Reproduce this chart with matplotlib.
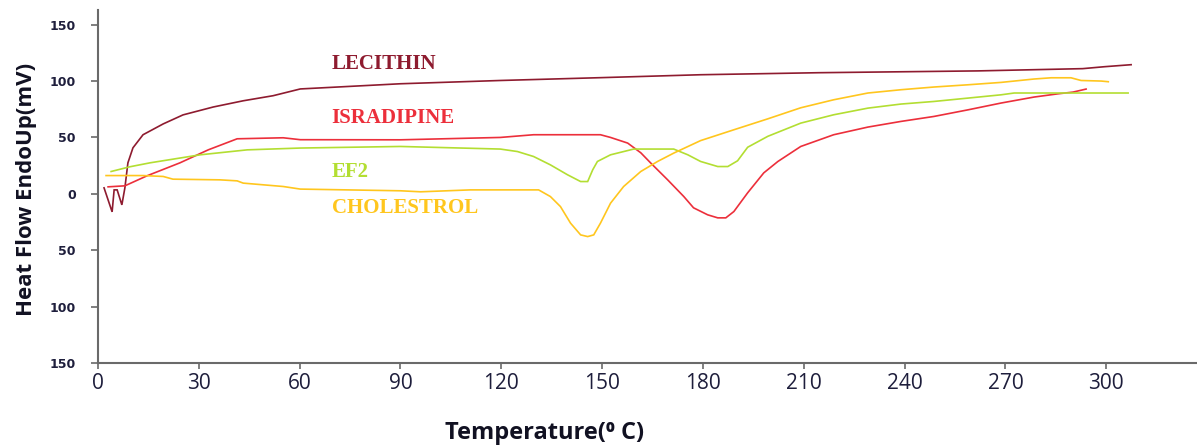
import matplotlib
matplotlib.use("Agg")
import matplotlib.pyplot as plt
from matplotlib.ticker import FuncFormatter

# ---------------- data ----------------
lecithin_x = [1.8, 4.2, 4.8, 5.7, 7.1, 8.0, 8.9, 10.4, 13.4, 19.4, 25.3, 34.3, 43.2,
              52.1, 60.2, 90.0, 119.7, 149.5, 179.3, 214.5, 261.8, 293.0, 299.4, 307.4]
lecithin_y = [5.3, -16.0, 3.5, 3.5, -9.8, 5.3, 27.5, 40.8, 52.4, 62.0, 70.0, 77.0, 82.5,
              87.0, 93.0, 97.6, 100.5, 103.0, 105.6, 107.4, 109.0, 111.0, 112.7, 114.5]

isradipine_x = [3.0, 8.0, 14.6, 24.4, 32.8, 41.4, 55.1, 60.2, 90.0, 119.7, 129.6, 149.5,
                152.5, 157.6, 161.5, 164.4, 169.5, 174.3, 177.2, 181.4, 184.4, 186.8,
                189.2, 193.3, 198.1, 202.3, 209.1, 218.9, 229.1, 238.9, 248.7, 258.9,
                268.7, 278.5, 285.7, 290.1, 294.0]
isradipine_y = [6.2, 7.1, 16.0, 27.5, 39.0, 48.8, 49.7, 48.0, 47.9, 50.0, 52.4, 52.4,
                50.0, 45.0, 36.4, 27.5, 12.4, -2.4, -12.4, -18.6, -21.3, -21.3,
                -15.7, 0.9, 18.6, 28.7, 42.0, 52.4, 59.2, 64.2, 68.6, 74.5,
                80.5, 85.8, 88.7, 90.2, 92.9]

ef2_x = [3.9, 9.5, 15.5, 30.4, 44.4, 60.2, 90.0, 119.7, 124.8, 129.6, 134.6, 139.7,
         143.6, 145.7, 147.2, 148.6, 152.5, 159.4, 171.3, 175.5, 179.3, 184.4, 187.4,
         190.3, 193.3, 199.3, 209.1, 218.9, 229.1, 238.9, 248.7, 258.9, 268.7, 272.6, 306.5]
ef2_y = [19.8, 24.0, 27.5, 34.6, 39.0, 40.6, 42.0, 39.7, 37.5, 33.1, 25.7, 16.9,
         10.9, 10.9, 21.3, 28.7, 34.6, 39.7, 39.7, 34.6, 28.7, 24.2, 24.2,
         29.3, 41.3, 51.0, 62.7, 70.1, 76.0, 79.6, 81.9, 84.9, 87.8, 89.4, 89.4]

chol_x = [2.4, 13.4, 19.4, 22.3, 36.3, 41.4, 43.2, 55.1, 60.2, 90.0, 96.0, 110.8, 119.7,
          131.1, 134.6, 137.6, 140.6, 143.6, 145.7, 147.5, 149.5, 152.5, 156.4, 161.5,
          166.5, 171.3, 179.3, 189.2, 199.3, 209.1, 218.9, 229.1, 238.9, 248.7, 258.9,
          268.7, 278.5, 283.6, 289.5, 292.5, 298.5, 300.6]
chol_y = [16.2, 16.2, 15.4, 13.0, 12.4, 11.5, 9.5, 6.5, 4.2, 2.7, 1.8, 3.5, 3.5,
          3.5, -2.4, -11.3, -26.0, -36.4, -37.9, -36.4, -26.0, -8.3, 6.5, 19.8,
          28.7, 36.1, 47.2, 56.8, 66.5, 76.3, 83.4, 89.4, 92.3, 94.7, 96.7,
          98.8, 101.8, 102.9, 102.9, 100.5, 100.0, 99.4]

series_names = ["LECITHIN", "ISRADIPINE", "EF2", "CHOLESTROL"]
label_y = [115.4, 67.4, 19.5, -13.0]
label_x = 69.5

x_ticks = [0, 30, 60, 90, 120, 150, 180, 210, 240, 270, 300]
y_ticks = [-150, -100, -50, 0, 50, 100, 150]

# ---------------- style ----------------
colors = ["#8E1B2F", "#EC2F3B", "#B3DE32", "#FFC61E"]
tick_color = "#1E1E3C"

fig = plt.figure(figsize=(11.97, 4.48), dpi=100)
ax = fig.add_axes([98 / 1197, (448 - 363) / 448, 1 - 98 / 1197, (363 - 10) / 448])

series = [(lecithin_x, lecithin_y), (isradipine_x, isradipine_y),
          (ef2_x, ef2_y), (chol_x, chol_y)]
for (xs, ys), c in zip(series, colors):
    ax.plot(xs, ys, color=c, lw=1.2, solid_joinstyle="miter")

for name, ly, c in zip(series_names, label_y, colors):
    ax.text(label_x, ly, name, color=c, fontsize=15, fontweight="bold",
            family="Liberation Serif", ha="left", va="center")

ax.set_xlim(0, 327)
ax.set_ylim(-150, 163)
ax.set_xticks(x_ticks)
ax.set_yticks(y_ticks)
ax.yaxis.set_major_formatter(FuncFormatter(lambda v, p: f"{abs(int(v))}"))

for s in ["top", "right"]:
    ax.spines[s].set_visible(False)
for s in ["left", "bottom"]:
    ax.spines[s].set_color("#6A6A6A")
    ax.spines[s].set_linewidth(1.5)

ax.tick_params(axis="x", length=4, width=1.2, color="#6A6A6A", pad=3,
               labelsize=15, labelcolor=tick_color)
ax.tick_params(axis="y", length=5, width=1.2, color="#6A6A6A", pad=11,
               labelsize=9, labelcolor=tick_color)
for lab in ax.get_xticklabels():
    lab.set_family("Open Sans")
for lab in ax.get_yticklabels():
    lab.set_family("DejaVu Sans")
    lab.set_fontweight("bold")

fig.text(545 / 1197, 1 - 433 / 448, "Temperature(\u2070 C)", ha="center", va="center",
         fontsize=17, fontweight="bold", family="Open Sans", color="#111122")
fig.text(27 / 1197, 1 - 189 / 448, "Heat Flow EndoUp(mV)", ha="center", va="center",
         rotation=90, fontsize=16, fontweight="bold", family="Open Sans", color="#111122")

fig.savefig("out.png", dpi=100, facecolor="white")
